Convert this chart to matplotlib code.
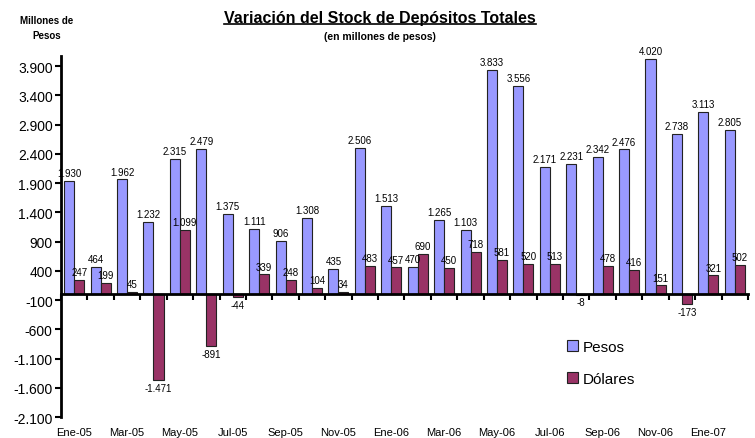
import matplotlib
matplotlib.use("Agg")
import matplotlib.pyplot as plt
from matplotlib.lines import Line2D
import numpy as np

plt.rcParams['font.family'] = ['Liberation Sans', 'DejaVu Sans']

months = ['Ene-05', 'Feb-05', 'Mar-05', 'Abr-05', 'May-05', 'Jun-05', 'Jul-05', 'Ago-05',
          'Sep-05', 'Oct-05', 'Nov-05', 'Dic-05', 'Ene-06', 'Feb-06', 'Mar-06', 'Abr-06',
          'May-06', 'Jun-06', 'Jul-06', 'Ago-06', 'Sep-06', 'Oct-06', 'Nov-06', 'Dic-06',
          'Ene-07', 'Feb-07']
pesos = [1930, 464, 1962, 1232, 2315, 2479, 1375, 1111, 906, 1308, 435, 2506, 1513,
         470, 1265, 1103, 3833, 3556, 2171, 2231, 2342, 2476, 4020, 2738, 3113, 2805]
dolares = [247, 199, 45, -1471, 1099, -891, -44, 339, 248, 104, 34, 483, 457,
           690, 450, 718, 581, 520, 513, -8, 478, 416, 151, -173, 321, 502]
yticks = list(range(-2100, 4000, 500))


def fmt(v):
    return f"{v:,}".replace(",", ".")


fig = plt.figure(figsize=(7.55, 4.39), dpi=100)
ax = fig.add_axes([0.0808, 0.0478, 0.9099, 0.8222])

x = np.arange(len(months))
w = 0.38
b1 = ax.bar(x - w / 2, pesos, w, color='#9999FF', edgecolor='#222222', linewidth=0.8)
b2 = ax.bar(x + w / 2, dolares, w, color='#993366', edgecolor='#222222', linewidth=0.8)

for bars, vals in ((b1, pesos), (b2, dolares)):
    for r, v in zip(bars, vals):
        cx = r.get_x() + r.get_width() / 2
        if v >= 0:
            ax.annotate(fmt(v), (cx, v), xytext=(0, 2), textcoords='offset points',
                        ha='center', va='bottom', fontsize=7)
        else:
            ax.annotate(fmt(v), (cx, v), xytext=(0, -2), textcoords='offset points',
                        ha='center', va='top', fontsize=7)

ymin, ymax = -2100, 4070
ax.set_ylim(ymin, ymax)
ax.set_xlim(-0.5, len(months) - 0.5)
ax.set_yticks(yticks)
ax.set_yticklabels([fmt(v) for v in yticks], fontsize=10)
ax.tick_params(axis='y', direction='out', length=4, width=1.5, pad=2)

for s in ('top', 'right'):
    ax.spines[s].set_visible(False)
ax.spines['left'].set_linewidth(2)
ax.spines['bottom'].set_position(('data', 0))
ax.spines['bottom'].set_linewidth(2)
ax.set_xticks(np.arange(len(months) + 1) - 0.5)
ax.set_xticklabels([])
ax.tick_params(axis='x', direction='out', length=4, width=1.5)

sec = ax.secondary_xaxis(0.0)
sec.set_xticks(x[::2])
sec.set_xticklabels(months[::2], fontsize=8)
sec.tick_params(length=0, pad=7)
sec.spines['bottom'].set_visible(False)

leg = ax.legend([b1, b2], ['Pesos', 'Dólares'], frameon=False, fontsize=11,
                loc='upper left', bbox_to_anchor=(0.733, 0.255), bbox_transform=fig.transFigure,
                handlelength=0.7, handleheight=0.7, labelspacing=1.2, handletextpad=0.3)

title = fig.text(0.503, 0.958, 'Variación del Stock de Depósitos Totales', ha='center', va='center',
                 fontsize=11.5, fontweight='bold')
fig.text(0.503, 0.915, '(en millones de pesos)', ha='center', va='center',
         fontsize=7.5, fontweight='bold')
fig.text(0.062, 0.935, 'Millones de\nPesos', ha='center', va='center', fontsize=7,
         fontweight='bold', linespacing=1.6)

fig.canvas.draw()
bb = title.get_window_extent().transformed(fig.transFigure.inverted())
fig.lines.append(Line2D([bb.x0, bb.x1], [bb.y0 + 0.002, bb.y0 + 0.002], transform=fig.transFigure,
                        color='black', linewidth=1.2))

fig.savefig('out.png', dpi=100)
